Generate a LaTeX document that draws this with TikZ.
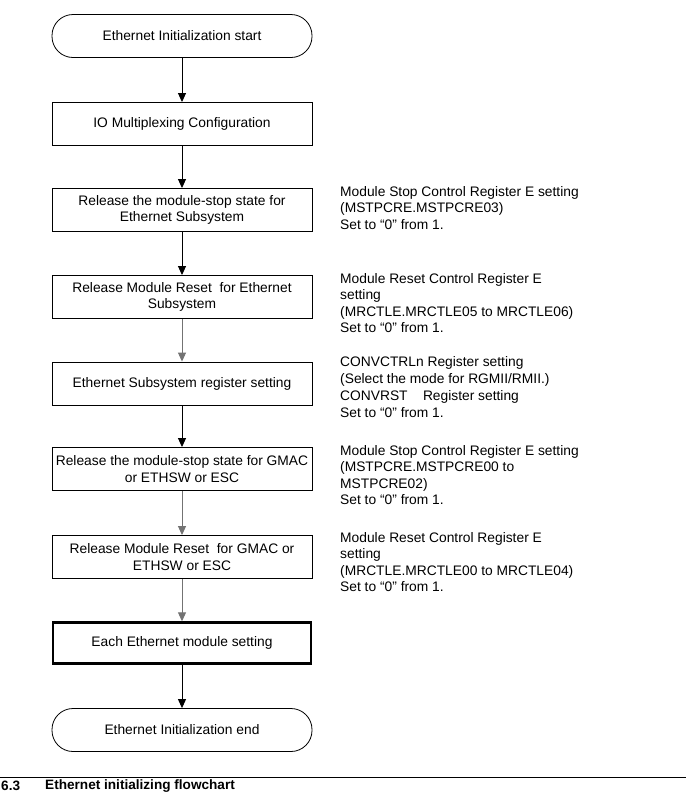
\documentclass[tikz,border=0pt]{standalone}
\usepackage{fontspec}
\setmainfont{Liberation Sans}
\usetikzlibrary{arrows.meta}
\tikzset{
  every node/.style={font=\fontsize{13.8pt}{16.5pt}\selectfont},
  term/.style={draw, line width=0.8pt, rounded corners=21pt, minimum width=260pt, minimum height=43pt, inner sep=0pt, align=center},
  procbox/.style={draw, line width=0.9pt, minimum width=260pt, minimum height=43pt, inner sep=0pt, align=center},
  thickbox/.style={procbox, line width=2.4pt, minimum width=258pt, minimum height=41pt},
  note/.style={anchor=north west, align=left, inner sep=0pt, font=\fontsize{13.8pt}{16.5pt}\selectfont},
  flow/.style={line width=0.9pt, -{Triangle[width=8pt,length=9pt]}},
  grayflow/.style={flow, draw=black!55},
  captext/.style={inner sep=0pt, font=\bfseries\fontsize{13.6pt}{16pt}\selectfont},
}
\begin{document}
\begin{tikzpicture}[x=1pt,y=-1pt]
\useasboundingbox[fill=white] (0,0) rectangle (686,796);
\node[term] (start) at (182,36) {Ethernet Initialization start};
\node[procbox] (io) at (182,124) {IO Multiplexing Configuration};
\node[procbox] (stopeth) at (182,210) {Release the module-stop state for\\Ethernet Subsystem};
\node[procbox] (rsteth) at (182,297) {Release Module Reset\ \ for Ethernet\\Subsystem};
\node[procbox] (regset) at (182,383.5) {Ethernet Subsystem register setting};
\node[procbox] (stopgmac) at (182,469) {Release the module-stop state for GMAC\\or ETHSW or ESC};
\node[procbox] (rstgmac) at (182,557) {Release Module Reset\ \ for GMAC or\\ETHSW or ESC};
\node[thickbox] (each) at (182,643) {Each Ethernet module setting};
\node[term] (finish) at (182,730) {Ethernet Initialization end};

\draw[flow] (start) -- (io);
\draw[flow] (io) -- (stopeth);
\draw[flow] (stopeth) -- (rsteth);
\draw[grayflow] (rsteth) -- (regset);
\draw[flow] (regset) -- (stopgmac);
\draw[grayflow] (stopgmac) -- (rstgmac);
\draw[grayflow] (rstgmac) -- (each);
\draw[flow] (each) -- (finish);

\node[note] (n1) at (340,186) {Module Stop Control Register E setting\\(MSTPCRE.MSTPCRE03)\\Set to “0” from 1.};
\node[note] (n2) at (340,273) {Module Reset Control Register E\\setting\\(MRCTLE.MRCTLE05 to MRCTLE06)\\Set to “0” from 1.};
\node[note, font=\fontsize{13.8pt}{17pt}\selectfont] (n3) at (340,356) {CONVCTRLn Register setting\\(Select the mode for RGMII/RMII.)\\CONVRST\ \ \ \ Register setting\\Set to “0” from 1.};
\node[note] (n4) at (340,445) {Module Stop Control Register E setting\\(MSTPCRE.MSTPCRE00 to\\MSTPCRE02)\\Set to “0” from 1.};
\node[note] (n5) at (340,532) {Module Reset Control Register E\\setting\\(MRCTLE.MRCTLE00 to MRCTLE04)\\Set to “0” from 1.};

\coordinate (rl) at (0,777);
\coordinate (rr) at (686,777);
\draw[line width=0.8pt] (rl) -- (rr);
\node[captext, anchor=west] (capnum) at (1,786) {6.3};
\node[captext, anchor=west] (cap) at (45,786) {Ethernet initializing flowchart};
\end{tikzpicture}
\end{document}
